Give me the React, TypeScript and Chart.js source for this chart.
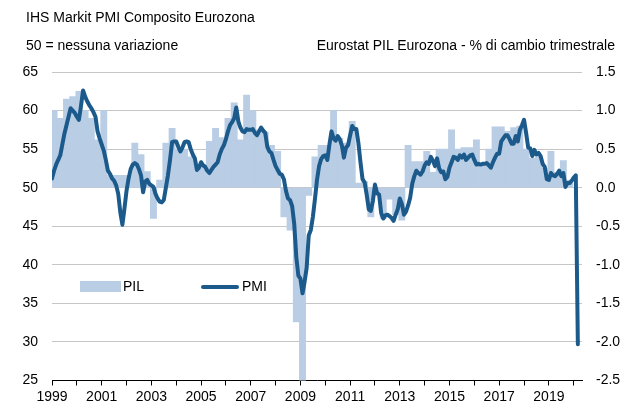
import React, { useEffect, useRef } from "react";
import { Chart, registerables } from "chart.js";

Chart.register(...registerables);

// ---------- DATA ----------
const FIRST_YEAR = 1999;

// IHS Markit Eurozone Composite PMI, monthly, Jan 1999 - Mar 2020
const pmiMonthly: number[] = [
  // 1999
  51.2, 52.2, 53.0, 53.6, 54.2, 55.6, 57.0, 58.1, 59.2, 60.3, 60.0, 59.7,
  // 2000
  59.2, 58.8, 60.6, 62.6, 61.8, 61.2, 60.7, 60.3, 59.8, 59.2, 57.3, 56.4,
  // 2001
  55.6, 54.8, 53.6, 52.2, 51.8, 51.2, 50.9, 50.3, 49.2, 46.8, 45.2, 47.3,
  // 2002
  49.6, 51.2, 52.4, 53.0, 53.2, 53.0, 52.4, 51.6, 49.4, 50.8, 51.0, 50.5,
  // 2003
  50.3, 50.1, 49.2, 48.6, 48.2, 48.1, 48.4, 50.0, 51.6, 53.6, 55.9, 56.0,
  // 2004
  56.0, 55.3, 54.7, 55.2, 55.9, 56.0, 55.9, 55.0, 54.3, 53.8, 52.3, 52.6,
  // 2005
  53.3, 52.9, 52.7, 52.2, 51.9, 52.3, 52.7, 53.0, 53.3, 54.3, 55.0, 55.5,
  // 2006
  56.3, 57.3, 58.1, 58.5, 59.0, 60.4, 58.6, 57.8, 57.3, 57.2, 57.6, 57.5,
  // 2007
  57.5, 57.6, 57.1, 56.8, 57.3, 57.8, 57.4, 57.1, 55.3, 54.7, 54.5, 53.6,
  // 2008
  52.8, 52.3, 51.8, 51.7, 51.1, 49.6, 48.6, 48.4, 47.6, 45.3, 41.0, 38.6,
  // 2009
  38.2, 36.3, 37.8, 39.6, 43.8, 44.5, 46.2, 48.5, 51.0, 52.8, 53.7, 54.1,
  // 2010
  54.2, 53.6, 55.6, 57.3, 56.4, 56.1, 56.7, 56.3, 55.5, 53.9, 55.2, 55.5,
  // 2011
  56.8, 58.0, 57.6, 57.6, 55.8, 53.3, 51.1, 50.7, 49.1, 47.2, 47.0, 48.3,
  // 2012
  50.4, 49.3, 49.1, 46.7, 46.0, 46.4, 46.5, 46.3, 46.1, 45.7, 46.5, 47.2,
  // 2013
  48.6, 47.9, 46.5, 46.9, 47.7, 48.7, 50.5, 51.5, 52.2, 51.9, 51.7, 52.1,
  // 2014
  52.9, 53.3, 53.1, 54.0, 53.5, 52.8, 53.8, 52.5, 52.0, 52.1, 51.1, 51.4,
  // 2015
  52.6, 53.3, 54.0, 53.9, 53.6, 54.2, 53.9, 54.3, 53.6, 53.9, 54.2, 54.3,
  // 2016
  53.6, 53.0, 53.1, 53.0, 53.1, 53.1, 53.2, 52.9, 52.6, 53.3, 53.9, 54.4,
  // 2017
  54.4, 56.0, 56.4, 56.8, 56.8, 56.3, 55.7, 55.7, 56.7, 56.0, 57.5, 58.1,
  // 2018
  58.8, 57.1, 55.2, 55.1, 54.1, 54.9, 54.3, 54.5, 54.1, 53.1, 52.7, 51.1,
  // 2019
  51.0, 51.9, 51.6, 51.5, 51.8, 52.2, 51.5, 51.9, 50.1, 50.6, 50.6, 50.9,
  // 2020
  51.3, 51.6, 29.7,
];

// Eurostat euro area GDP, % q/q, 1999 Q1 - 2019 Q4
const gdpQuarterly: number[] = [
  1.0, 0.9, 1.15, 1.18, // 1999
  1.25, 1.0, 0.9, 0.62, // 2000
  1.0, 0.16, 0.16, 0.16, // 2001
  0.16, 0.58, 0.43, 0.21, // 2002
  -0.4, 0.1, 0.58, 0.77, // 2003
  0.5, 0.5, 0.4, 0.3, // 2004
  0.3, 0.6, 0.77, 0.65, // 2005
  0.9, 1.1, 0.62, 1.2, // 2006
  1.0, 0.75, 0.72, 0.55, // 2007
  0.47, -0.38, -0.55, -1.74, // 2008
  -3.1, -0.1, 0.4, 0.55, // 2009
  0.55, 1.0, 0.64, 0.58, // 2010
  0.86, 0.06, 0.08, -0.38, // 2011
  -0.1, -0.4, -0.15, -0.35, // 2012
  -0.42, 0.55, 0.34, 0.34, // 2013
  0.47, 0.2, 0.5, 0.5, // 2014
  0.75, 0.5, 0.52, 0.52, // 2015
  0.62, 0.3, 0.5, 0.79, // 2016
  0.79, 0.73, 0.78, 0.8, // 2017
  0.5, 0.38, 0.4, 0.25, // 2018
  0.47, 0.2, 0.35, 0.1, // 2019
];

const xYearLabels: string[] = [
  "1999", "2001", "2003", "2005", "2007", "2009",
  "2011", "2013", "2015", "2017", "2019",
];

const titleText = "IHS Markit PMI Composito Eurozona";
const leftSubtitle = "50 = nessuna variazione";
const rightSubtitle = "Eurostat PIL Eurozona - % di cambio trimestrale";
const barLegendLabel = "PIL";
const lineLegendLabel = "PMI";

// ---------- STYLE ----------
const FONT = '"Liberation Sans", Arial, Helvetica, sans-serif';
const BAR_COLOR = "#b9cde5";
const LINE_COLOR = "#1b5a8a";
const GRID_COLOR = "#c6c6c6";

const insideLegend = {
  id: "insideLegend",
  afterDraw(chart: any) {
    const ctx = chart.ctx as CanvasRenderingContext2D;
    ctx.save();
    ctx.fillStyle = BAR_COLOR;
    ctx.fillRect(80, 281, 41, 11);
    ctx.strokeStyle = LINE_COLOR;
    ctx.lineWidth = 4;
    ctx.lineCap = "round";
    ctx.beginPath();
    ctx.moveTo(203, 287);
    ctx.lineTo(237, 287);
    ctx.stroke();
    ctx.fillStyle = "#000";
    ctx.font = `14px ${FONT}`;
    ctx.textBaseline = "middle";
    ctx.textAlign = "left";
    ctx.fillText(barLegendLabel, 123, 287);
    ctx.fillText(lineLegendLabel, 242, 287);
    ctx.restore();
  },
};

export default function App() {
  const ref = useRef<HTMLCanvasElement>(null);

  useEffect(() => {
    const canvas = ref.current;
    if (!canvas) return;
    Chart.defaults.font.family = FONT;
    Chart.defaults.font.size = 14;
    Chart.defaults.color = "#000";

    const chart = new Chart(canvas, {
      type: "line",
      data: {
        datasets: [
          {
            type: "line",
            label: lineLegendLabel,
            data: pmiMonthly.map((v, i) => ({ x: i, y: v })),
            borderColor: LINE_COLOR,
            backgroundColor: LINE_COLOR,
            borderWidth: 4,
            pointRadius: 0,
            tension: 0,
            fill: false,
            borderJoinStyle: "round",
            borderCapStyle: "round",
            yAxisID: "y",
            xAxisID: "x",
            order: 0,
          },
          {
            type: "bar",
            label: barLegendLabel,
            data: gdpQuarterly.map((v, q) => ({ x: 3 * q + 1, y: v })),
            backgroundColor: BAR_COLOR,
            borderWidth: 0,
            barPercentage: 1,
            categoryPercentage: 1,
            yAxisID: "yR",
            xAxisID: "x",
            order: 1,
          },
        ],
      } as any,
      options: {
        responsive: false,
        animation: false,
        events: [],
        layout: { padding: { top: 72, left: 0, right: 0, bottom: 0 } },
        plugins: {
          legend: { display: false },
          tooltip: { enabled: false },
          title: { display: false },
        },
        scales: {
          x: {
            type: "linear",
            min: 0,
            max: 256,
            offset: false,
            border: { display: true, color: "#000", width: 1 },
            grid: {
              offset: false,
              drawOnChartArea: false,
              drawTicks: true,
              tickLength: 5,
              color: "#000",
            },
            ticks: {
              stepSize: 12,
              maxTicksLimit: 100,
              autoSkip: false,
              includeBounds: false,
              maxRotation: 0,
              minRotation: 0,
              padding: 3,
              font: { size: 14, family: FONT },
              color: "#000",
              callback: (v: any) => {
                const n = Number(v);
                if (n % 24 !== 0) return "";
                return xYearLabels[n / 24] ?? "";
              },
            },
            afterFit: (s: any) => {
              s.height = 26.5;
            },
          },
          y: {
            type: "linear",
            position: "left",
            min: 25,
            max: 65,
            border: { display: false },
            grid: {
              drawOnChartArea: true,
              drawTicks: false,
              color: GRID_COLOR,
              lineWidth: 1,
            },
            ticks: {
              stepSize: 5,
              padding: 14,
              font: { size: 14, family: FONT },
              color: "#000",
            },
            afterFit: (s: any) => {
              s.width = 52;
            },
          },
          yR: {
            type: "linear",
            position: "right",
            min: -2.5,
            max: 1.5,
            border: { display: false },
            grid: { drawOnChartArea: false, drawTicks: false },
            ticks: {
              stepSize: 0.5,
              padding: 14,
              font: { size: 14, family: FONT },
              color: "#000",
              callback: (v: any) => Number(v).toFixed(1),
            },
            afterFit: (s: any) => {
              s.width = 51;
            },
          },
        },
      } as any,
      plugins: [insideLegend],
    });

    return () => chart.destroy();
  }, []);

  const textBase: React.CSSProperties = {
    position: "absolute",
    font: `14px ${FONT}`,
    lineHeight: "16px",
    color: "#000",
    whiteSpace: "nowrap",
  };

  return (
    <div
      style={{
        position: "fixed",
        left: 0,
        top: 0,
        width: 633,
        height: 407,
        background: "#fff",
        overflow: "hidden",
      }}
    >
      <canvas
        ref={ref}
        width={633}
        height={407}
        style={{ position: "absolute", left: 0, top: 0, display: "block" }}
      />
      <div style={{ ...textBase, left: 26, top: 9 }}>{titleText}</div>
      <div style={{ ...textBase, left: 26, top: 37 }}>{leftSubtitle}</div>
      <div style={{ ...textBase, right: 18, top: 37 }}>{rightSubtitle}</div>
    </div>
  );
}
